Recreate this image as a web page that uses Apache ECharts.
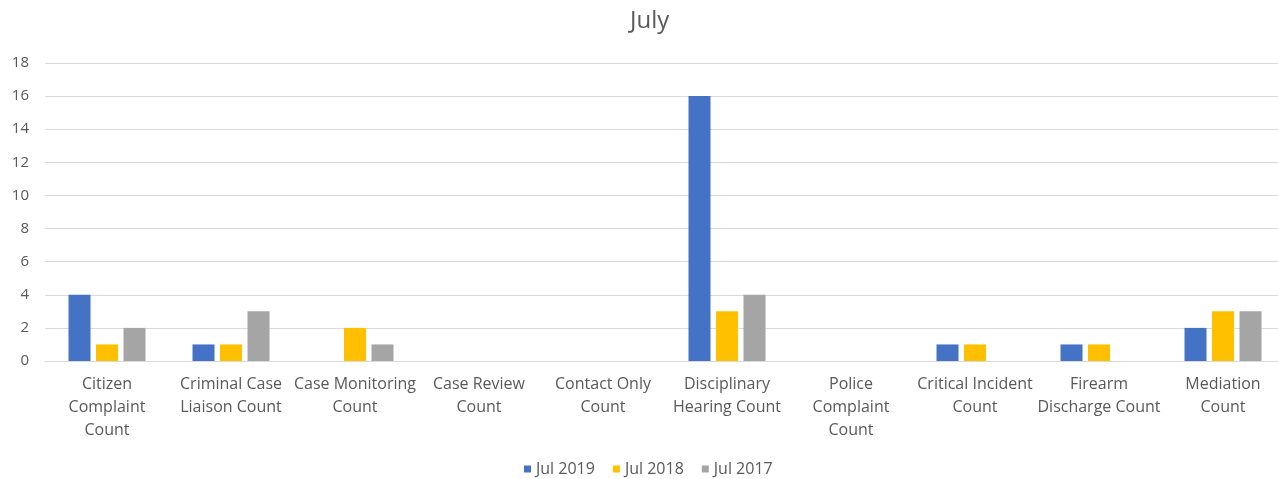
<!DOCTYPE html>
<html>
<head>
<meta charset="utf-8">
<script src="https://cdn.jsdelivr.net/npm/echarts@6/dist/echarts.min.js"></script>
<style>
html,body{margin:0;padding:0;background:#fff;overflow:hidden;width:1278px;height:479px;}
/* drawing surface is a little wider than the window so the plot band can run past the right edge */
#chart{width:1292px;height:479px;}
</style>
</head>
<body>
<div id="chart"></div>
<script>
const categories = [
  'Citizen\nComplaint\nCount',
  'Criminal Case\nLiaison Count',
  'Case Monitoring\nCount',
  'Case Review\nCount',
  'Contact Only\nCount',
  'Disciplinary\nHearing Count',
  'Police\nComplaint\nCount',
  'Critical Incident\nCount',
  'Firearm\nDischarge Count',
  'Mediation\nCount'
];
const seriesNames = ['Jul 2019', 'Jul 2018', 'Jul 2017'];
const jul2019 = [4, 1, 0, 0, 0, 16, 0, 1, 1, 2];
const jul2018 = [1, 1, 2, 0, 0, 3, 0, 1, 1, 3];
const jul2017 = [2, 3, 1, 0, 0, 4, 0, 0, 0, 3];
const colors = ['#4472C4', '#FFC000', '#A5A5A5'];

const font = '"Open Sans", "Noto Sans", sans-serif';
const chart = echarts.init(document.getElementById('chart'), null, {renderer: 'canvas'});
const values = [jul2019, jul2018, jul2017];

chart.setOption({
  animation: false,
  color: colors,
  title: {
    text: 'July',
    left: 625,
    top: 4,
    textStyle: {fontFamily: font, fontSize: 24, fontWeight: 'normal', color: '#595959'}
  },
  legend: {
    top: 456,
    left: 519,
    itemWidth: 7,
    itemHeight: 7,
    itemGap: 18,
    icon: 'rect',
    textStyle: {fontFamily: font, fontSize: 16, color: '#595959'},
    data: seriesNames
  },
  grid: {left: 45, right: 7, top: 63, height: 298},
  xAxis: {
    type: 'category',
    data: categories,
    axisTick: {show: false},
    axisLine: {lineStyle: {color: '#D9D9D9'}},
    axisLabel: {
      interval: 0,
      margin: 12,
      fontFamily: font,
      fontSize: 16,
      lineHeight: 23,
      color: '#595959'
    }
  },
  yAxis: {
    type: 'value',
    min: 0,
    max: 18,
    interval: 2,
    axisLine: {show: false},
    axisTick: {show: false},
    splitLine: {lineStyle: {color: '#D9D9D9'}},
    axisLabel: {margin: 16, fontFamily: font, fontSize: 15, color: '#595959'}
  },
  series: seriesNames.map((name, i) => ({
    name: name,
    type: 'bar',
    data: values[i],
    barWidth: 22,
    barGap: '25%'
  }))
});
</script>
</body>
</html>
